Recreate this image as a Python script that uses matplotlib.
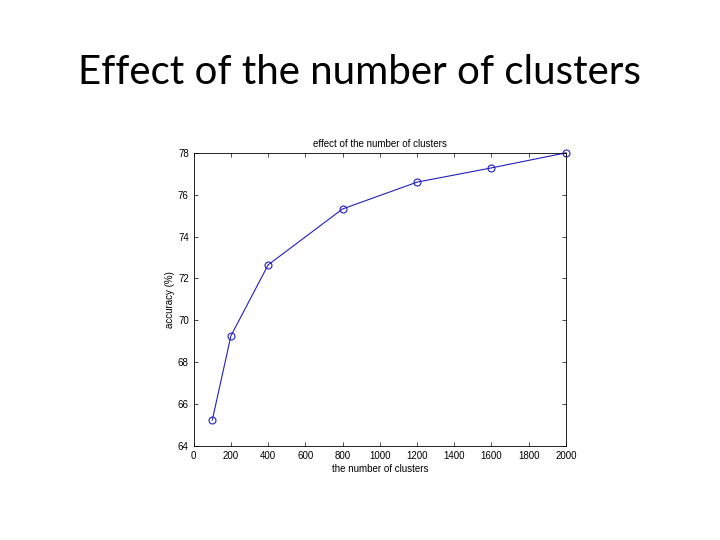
import matplotlib
matplotlib.use("Agg")
import matplotlib.pyplot as plt

clusters = [100, 200, 400, 800, 1200, 1600, 2000]
accuracy = [65.24, 69.26, 72.65, 75.32, 76.6, 77.28, 78.0]

fig = plt.figure(figsize=(7.2, 5.4), dpi=100)
fig.text(0.5, 0.865, "Effect of the number of clusters", ha="center", va="center",
         fontsize=29, family="Lato")

ax = fig.add_axes([0.269, 0.174, 0.517, 0.543])
ax.plot(clusters, accuracy, color="#2020c0", lw=0.8, marker="o", ms=5,
        mfc="none", mec="#2020c0", mew=0.8, clip_on=False)
ax.set_xlim(0, 2000)
ax.set_ylim(64, 78)
ax.set_xticks(range(0, 2001, 200))
ax.set_yticks(range(64, 79, 2))
ax.tick_params(direction="in", top=True, right=True, labelsize=7, length=3, width=0.5)
for s in ax.spines.values():
    s.set_linewidth(0.6)
for lab in ax.get_xticklabels() + ax.get_yticklabels():
    lab.set_family("Liberation Sans")
ax.set_xlabel("the number of clusters", fontsize=7, family="Liberation Sans", labelpad=2)
ax.set_ylabel("accuracy (%)", fontsize=7, family="Liberation Sans", labelpad=2)
ax.set_title("effect of the number of clusters", fontsize=7, family="Liberation Sans", pad=4)

fig.savefig("out.png")
